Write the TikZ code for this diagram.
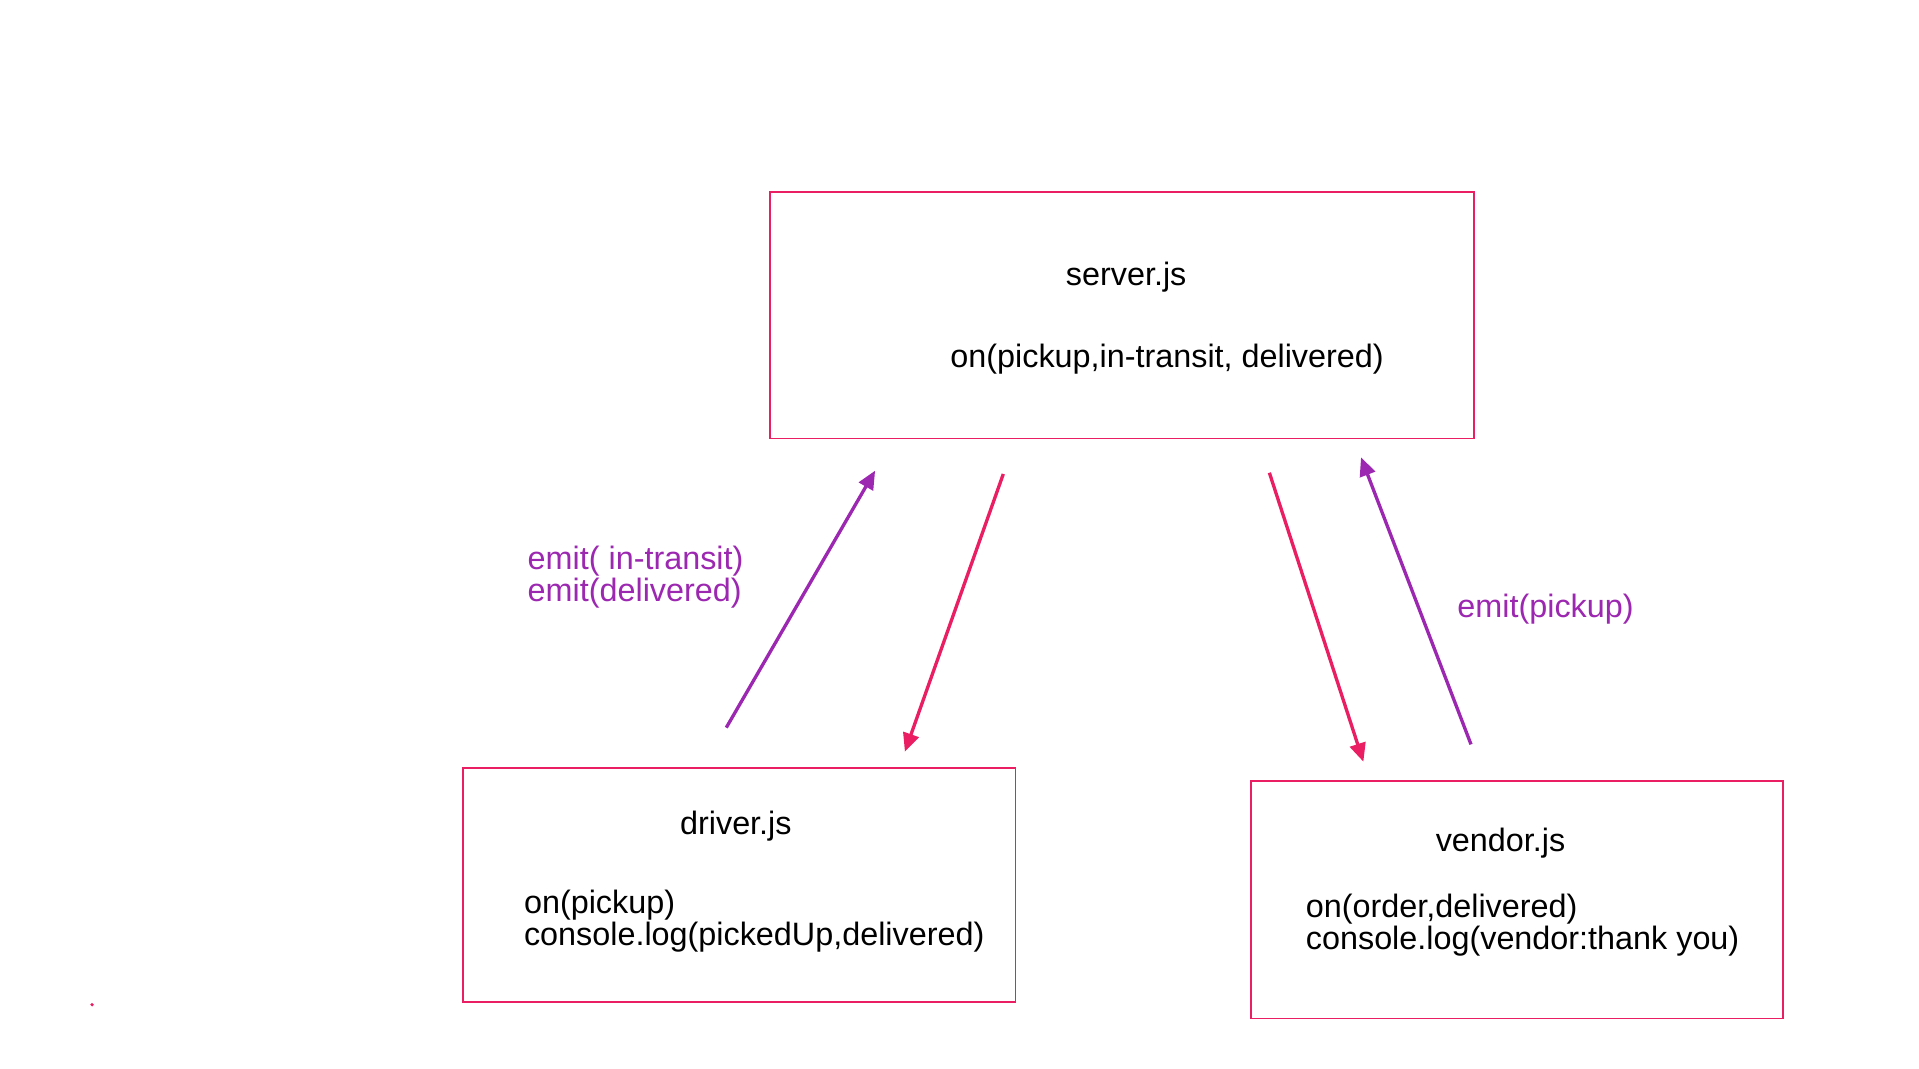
\documentclass[tikz,border=0pt]{standalone}
\usepackage{fontspec}
\setmainfont{Liberation Sans}
\usepackage{tikz}
\usetikzlibrary{arrows.meta, positioning}

\definecolor{boxpink}{HTML}{E91E63}
\definecolor{emitpurple}{HTML}{9C27B0}

\begin{document}
\begin{tikzpicture}[x=1pt, y=-1pt, font=\fontsize{26.3}{27}\selectfont]
\tikzset{every node/.style={inner sep=0pt, outer sep=0pt}}

\tikzstyle{module}=[rectangle, draw=boxpink, line width=1.4pt]
\tikzstyle{txt}=[anchor=base west, text=black]
\tikzstyle{title}=[anchor=base, text=black]
\tikzstyle{emitlabel}=[anchor=base west, text=emitpurple]
\tikzstyle{emit}=[-{Triangle[length=15pt, width=13pt]}, line width=2.7pt, draw=emitpurple]
\tikzstyle{listen}=[-{Triangle[length=15pt, width=13pt]}, line width=2.7pt, draw=boxpink]

\useasboundingbox (0,0) rectangle (1560,868.2);

% the three modules
\node[module, minimum width=571.8pt, minimum height=200.5pt] (server) at (912.1,256.1) {};
\node[module, minimum width=449.2pt, minimum height=190.2pt] (driver) at (600.8,719.7) {};
\node[module, minimum width=432.1pt, minimum height=193pt] (vendor) at (1233.2,731.4) {};

\node[title] (server name) at (915.5,232.1) {server.js};
\node[txt] (server on) at (772.6,298.5) {on(pickup,in-transit, delivered)};

\node[title] (driver name) at (598.2,678) {driver.js};
\node[txt] (driver on) at (426,742.2) {on(pickup)};
\node[txt] (driver log) at (426,768.8) {console.log(pickedUp,delivered)};

\node[title] (vendor name) at (1219.8,692) {vendor.js};
\node[txt] (vendor on) at (1061.6,746.2) {on(order,delivered)};
\node[txt] (vendor log) at (1061.6,772.2) {console.log(vendor:thank you)};

% free ends of the arrows
\coordinate (driver out) at (590.4,591.5);
\coordinate (driver in) at (735.6,611.1);
\coordinate (server from driver) at (711.4,382.6);
\coordinate (server to driver) at (815.6,385.3);
\coordinate (server to vendor) at (1031.9,384.3);
\coordinate (server from vendor) at (1106.4,371.8);
\coordinate (vendor in) at (1108.3,619.2);
\coordinate (vendor out) at (1195.8,605.1);

\draw[emit] (driver out) -- (server from driver);
\draw[listen] (server to driver) -- (driver in);
\draw[listen] (server to vendor) -- (vendor in);
\draw[emit] (vendor out) -- (server from vendor);

\node[emitlabel] (driver emit a) at (429,462.8) {emit( in-transit)};
\node[emitlabel] (driver emit b) at (429,488.8) {emit(delivered)};
\node[emitlabel] (vendor emit) at (1184.8,502.2) {emit(pickup)};

\node[circle, fill=boxpink, minimum size=3pt] (dot) at (74.8,816.7) {};

\end{tikzpicture}
\end{document}
